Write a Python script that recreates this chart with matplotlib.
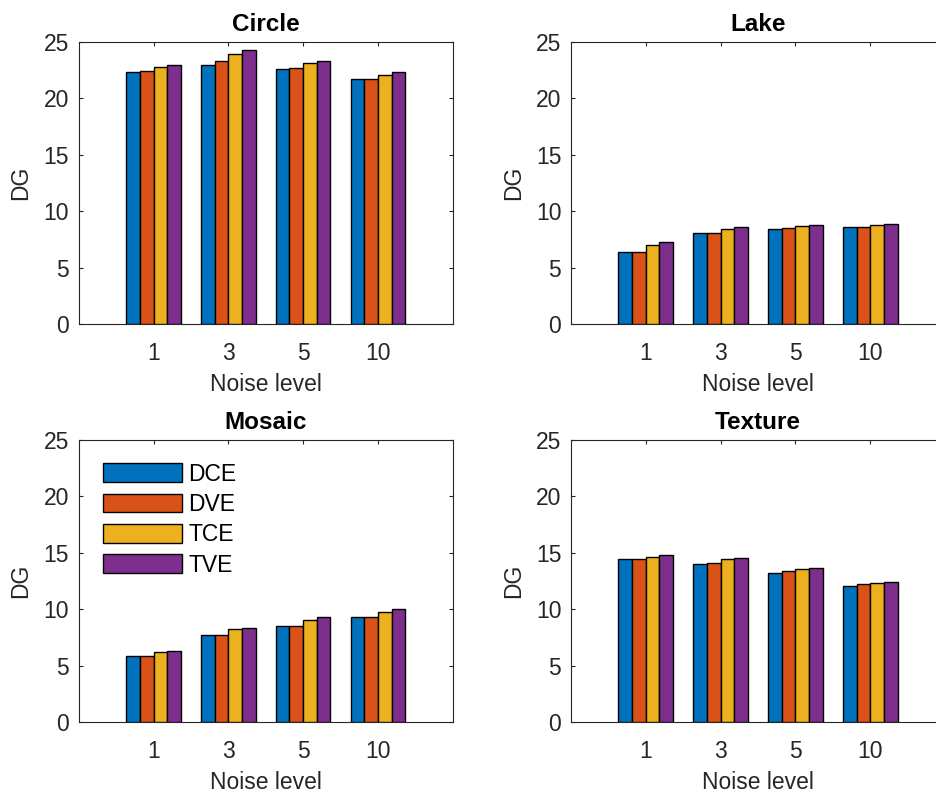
import matplotlib
matplotlib.use("Agg")
import matplotlib.pyplot as plt
import numpy as np

plt.rcParams['font.family'] = ['Liberation Sans', 'DejaVu Sans']

noise_levels = ["1", "3", "5", "10"]
methods = ["DCE", "DVE", "TCE", "TVE"]
colors = ["#0072BD", "#D95319", "#EDB120", "#7E2F8E"]

circle = {
    "DCE": [22.30, 22.97, 22.64, 21.72],
    "DVE": [22.42, 23.30, 22.73, 21.75],
    "TCE": [22.76, 23.98, 23.15, 22.10],
    "TVE": [22.94, 24.30, 23.29, 22.34],
}
lake = {
    "DCE": [6.35, 8.03, 8.44, 8.59],
    "DVE": [6.35, 8.09, 8.47, 8.62],
    "TCE": [7.00, 8.41, 8.65, 8.76],
    "TVE": [7.24, 8.59, 8.76, 8.85],
}
mosaic = {
    "DCE": [5.85, 7.71, 8.51, 9.28],
    "DVE": [5.85, 7.74, 8.51, 9.28],
    "TCE": [6.17, 8.21, 9.01, 9.78],
    "TVE": [6.26, 8.36, 9.28, 9.99],
}
texture = {
    "DCE": [14.44, 14.03, 13.18, 12.09],
    "DVE": [14.47, 14.06, 13.41, 12.26],
    "TCE": [14.65, 14.41, 13.56, 12.35],
    "TVE": [14.79, 14.53, 13.65, 12.41],
}
panels = [("Circle", circle), ("Lake", lake), ("Mosaic", mosaic), ("Texture", texture)]

W, H = 937, 795
fig = plt.figure(figsize=(W / 100, H / 100), dpi=100)

ax_w, ax_h = 374 / W, 282 / H
lefts = [78.7 / W, 571 / W]
bottoms = [(H - 324) / H, (H - 722) / H]
positions = [(lefts[0], bottoms[0]), (lefts[1], bottoms[0]),
             (lefts[0], bottoms[1]), (lefts[1], bottoms[1])]

txt = "#262626"
fs = 16.5
x = np.arange(1, len(noise_levels) + 1)
bw = 0.183

for (name, data), (l, b) in zip(panels, positions):
    ax = fig.add_axes([l, b, ax_w, ax_h])
    for i, m in enumerate(methods):
        off = (i - 1.5) * bw
        ax.bar(x + off, data[m], width=bw, color=colors[i], edgecolor="black",
               linewidth=1.0, label=m, zorder=3)
    ax.set_xlim(0, 5)
    ax.set_ylim(0, 25)
    ax.set_xticks(x)
    ax.set_xticklabels(noise_levels)
    ax.set_yticks([0, 5, 10, 15, 20, 25])
    ax.tick_params(direction="in", length=3.2, width=0.8, colors=txt,
                   labelsize=fs, top=True, right=True)
    ax.tick_params(axis="x", pad=13)
    ax.tick_params(axis="y", pad=7)
    for s in ax.spines.values():
        s.set_color(txt)
        s.set_linewidth(0.8)
    ax.set_title(name, fontsize=17.5, fontweight="bold", color="black", pad=8)
    ax.set_xlabel("Noise level", fontsize=fs, color=txt, labelpad=6)
    ax.set_ylabel("DG", fontsize=fs, color=txt, labelpad=8)
    if name == "Mosaic":
        ax.legend(loc="upper left", bbox_to_anchor=(0.064, 0.92), frameon=False,
                  fontsize=fs, handlelength=3.48, handleheight=0.87,
                  labelspacing=0.32, handletextpad=0.25, borderaxespad=0,
                  borderpad=0)

fig.savefig("out.png", dpi=100)
